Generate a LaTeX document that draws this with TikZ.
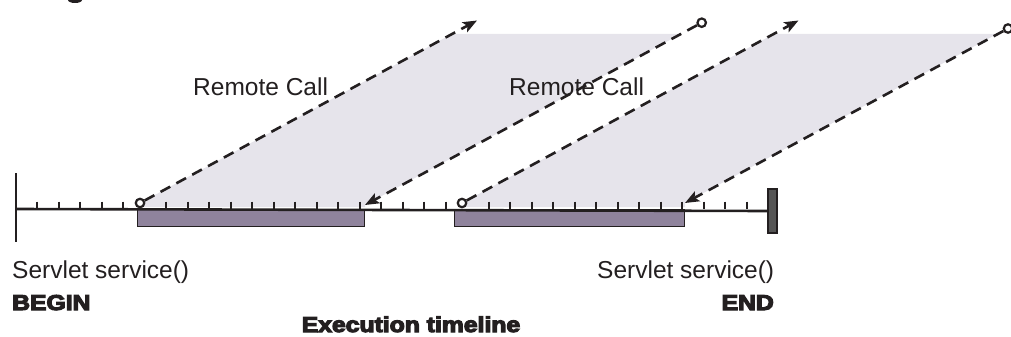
\documentclass[tikz,border=0pt]{standalone}
\usepackage{fontspec}
\setmainfont{Liberation Sans}
\newfontfamily\heavyfont{Liberation Sans Bold}
\usetikzlibrary{arrows.meta}
\definecolor{callshade}{RGB}{230,228,235}
\definecolor{barfill}{RGB}{143,131,156}
\definecolor{ink}{RGB}{35,31,32}
\definecolor{endbarfill}{RGB}{85,85,85}
\newcommand{\heavytext}[1]{\scalebox{1.15}[1]{\special{pdf:literal direct 2 Tr 1.1 w}#1\special{pdf:literal direct 0 Tr}}}
\begin{document}
\begin{tikzpicture}[x=1pt,y=-1pt,
  call/.style={draw=ink, line width=2.6pt, dash pattern=on 11pt off 7pt, -{Stealth[length=14pt,width=11pt,inset=3pt]}},
  opencirc/.style={circle, draw=ink, fill=white, line width=2.2pt, inner sep=0pt, minimum size=8.5pt},
  lbl/.style={inner sep=0pt, font=\fontsize{24.5}{28}\selectfont, text=ink},
  heavy/.style={inner sep=0pt, font=\heavyfont\fontsize{21.5}{26}\selectfont, text=ink},
  tickline/.style={draw=ink, line width=2pt},
  axis/.style={draw=ink, line width=2.6pt},
  bar/.style={draw=ink, line width=1.2pt, fill=barfill, inner sep=0pt, anchor=north west, minimum height=17pt}]
\useasboundingbox (0,0) rectangle (1011,337);

% clipped fragment at top
\fill[ink] (75,0) ellipse [x radius=7pt, y radius=3pt];

% shaded parallelograms
\fill[callshade] (140,207) -- (140,203) -- (452,34) -- (680.8,34) -- (365,205) -- (365,207) -- cycle;
\fill[callshade] (462,207) -- (462,203) -- (774,34) -- (997,34) -- (685,203) -- (685,207) -- cycle;

% bars
\node[bar, minimum width=227pt] (bar1) at (137,209) {};
\node[bar, minimum width=230pt] (bar2) at (454,209) {};

% end marker
\node[draw=ink, line width=1.2pt, fill=endbarfill, inner sep=0pt, minimum width=9pt, minimum height=44pt] (endmark) at (772.5,211) {};

% timeline
\coordinate (tlL) at (16,209);
\coordinate (vtop) at (16,173);
\coordinate (vbot) at (16,242);
\draw[axis] (tlL) -- (endmark.west);
\draw[axis] (vtop) -- (vbot);
\foreach \k in {0,...,33}{%
  \ifnum\k=5\relax\else\ifnum\k=20\relax\else
    \draw[tickline] ({37.3+21.5*\k},201.5) -- ({37.3+21.5*\k},209);
  \fi\fi}

% remote calls
\node[opencirc] (c1) at (140,203) {};
\coordinate (t1) at (477,20.5);
\node[opencirc] (r1) at (701.7,22.7) {};
\coordinate (rt1) at (365,205);
\node[opencirc] (c2) at (462,203) {};
\coordinate (t2) at (798.5,20.5);
\node[opencirc] (r2) at (1008,28.5) {};
\coordinate (rt2) at (685,203);

\draw[call] (c1) -- (t1);
\draw[call] (r1) -- (rt1);
\draw[call] (c2) -- (t2);
\draw[call] (r2) -- (rt2);

% labels
\node[lbl, anchor=base west] (rc1) at (193,95) {Remote Call};
\node[lbl, anchor=base west] (rc2) at (509,95) {Remote Call};
\node[lbl, anchor=base west] (sl) at (12,278) {Servlet service()};
\node[lbl, anchor=base west] (sr) at (597,278) {Servlet service()};
\node[heavy, anchor=base west] (begin) at (12,310) {\heavytext{BEGIN}};
\node[heavy, anchor=base east] (endl) at (774,310) {\heavytext{END}};
\node[heavy, anchor=base] (exec) at (411,332) {\heavytext{Execution timeline}};
\end{tikzpicture}
\end{document}
